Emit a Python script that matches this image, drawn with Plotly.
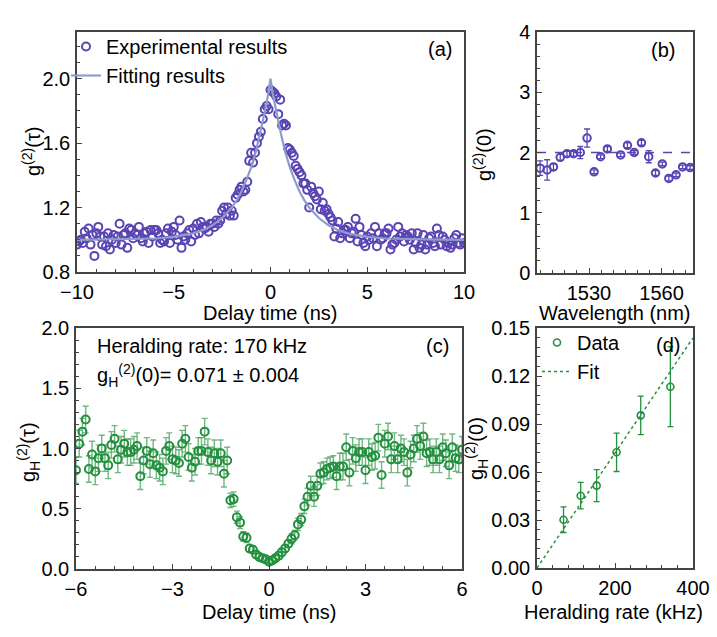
import plotly.graph_objects as go

# ---------------- Panel (a): g2(tau) thermal bunching ----------------
delay_a_start = -10.0
delay_a_step = 0.1
g2_a = [
    0.97, 0.99, 1.00, 0.98, 1.05, 1.01, 1.07, 0.97, 1.03, 0.90,
    1.04, 1.08, 1.02, 0.97, 1.02, 0.96, 1.04, 0.94, 1.00, 1.03,
    0.98, 1.02, 1.10, 0.97, 1.03, 1.04, 0.95, 1.07, 1.06, 1.01,
    1.04, 1.03, 1.08, 1.01, 0.99, 1.04, 1.05, 0.98, 1.06, 1.02,
    1.06, 1.06, 1.04, 0.98, 1.00, 0.99, 1.04, 1.07, 0.98, 1.05,
    1.08, 1.03, 1.00, 1.12, 0.95, 1.02, 1.00, 1.04, 1.06, 0.99,
    1.07, 1.03, 1.10, 1.04, 1.11, 1.08, 1.07, 1.08, 1.05, 1.10,
    1.10, 1.08, 1.12, 1.10, 1.12, 1.18, 1.20, 1.16, 1.20, 1.15,
    1.18, 1.15, 1.26, 1.28, 1.31, 1.33, 1.30, 1.31, 1.36, 1.49,
    1.54, 1.48, 1.54, 1.60, 1.64, 1.67, 1.75, 1.81, 1.83, 1.81,
    1.93, 1.92, 1.91, 1.89, 1.78, 1.87, 1.71, 1.72, 1.71, 1.57,
    1.56, 1.54, 1.52, 1.46, 1.44, 1.42, 1.40, 1.35, 1.35, 1.31,
    1.20, 1.33, 1.29, 1.27, 1.25, 1.30, 1.19, 1.23, 1.18, 1.19,
    1.16, 1.14, 1.12, 1.02, 1.07, 1.11, 1.01, 1.04, 1.06, 1.06,
    1.08, 1.01, 1.04, 1.05, 1.13, 0.99, 1.08, 1.03, 0.98, 0.96,
    1.02, 1.00, 1.04, 1.01, 1.08, 0.96, 1.04, 1.00, 1.01, 1.04,
    1.04, 1.07, 0.94, 0.97, 0.98, 1.00, 1.08, 1.02, 1.04, 0.99,
    1.03, 1.02, 1.00, 1.04, 0.94, 0.98, 1.04, 0.95, 0.97, 1.03,
    0.94, 0.97, 1.01, 1.02, 0.98, 0.96, 1.07, 1.03, 0.97, 1.02,
    1.00, 0.96, 0.98, 0.95, 0.97, 1.01, 1.03, 0.98, 0.97, 1.01,
    0.98,
]
delay_a = [round(delay_a_start + i * delay_a_step, 2) for i in range(len(g2_a))]

fit_a_t = [-10, -8, -6, -5, -4, -3.5, -3, -2.5, -2, -1.75, -1.5, -1.25, -1, -0.75, -0.5,
           -0.25, -0.125, 0, 0.125, 0.25, 0.5, 0.75, 1, 1.25, 1.5, 1.75, 2, 2.5, 3, 3.5,
           4, 5, 6, 8, 10]
fit_a_g = [1.0, 1.002, 1.008, 1.018, 1.04, 1.06, 1.09, 1.135, 1.20, 1.245, 1.30, 1.37, 1.45,
           1.55, 1.68, 1.82, 1.90, 2.00, 1.90, 1.82, 1.68, 1.55, 1.45, 1.37, 1.30, 1.245, 1.20,
           1.135, 1.09, 1.06, 1.04, 1.018, 1.008, 1.002, 1.0]

# ---------------- Panel (b): g2(0) vs wavelength ----------------
wavelength_b = [1509.8, 1512.7, 1515.3, 1518.1, 1520.9, 1523.6, 1526.4, 1529.2, 1532.1,
                1534.8, 1537.6, 1543.1, 1545.9, 1548.7, 1551.7, 1554.7, 1557.5, 1560.3,
                1563.0, 1566.0, 1568.7, 1571.8]
g2zero_b = [1.74, 1.71, 1.76, 1.92, 1.98, 1.98, 2.00, 2.24, 1.68, 1.93, 2.06, 1.96, 2.12,
            2.00, 2.16, 1.93, 1.66, 1.81, 1.57, 1.63, 1.76, 1.75]
g2zero_b_err = [0.12, 0.17, 0.05, 0.05, 0.04, 0.04, 0.10, 0.15, 0.03, 0.03, 0.04, 0.03, 0.04,
                0.03, 0.04, 0.10, 0.04, 0.03, 0.04, 0.03, 0.03, 0.03]
ref_line_b = 2.0

# ---------------- Panel (c): heralded g2(tau) ----------------
delay_c_start = -6.0
delay_c_step = 0.1
g2h_c = [
    0.82, 1.04, 1.14, 1.24, 0.83, 0.95, 0.81, 0.92, 1.00, 0.92,
    0.86, 1.03, 1.08, 0.91, 0.99, 1.04, 0.97, 0.97, 0.99, 1.02,
    0.77, 0.90, 0.98, 0.87, 0.96, 0.86, 0.84, 0.81, 0.98, 1.02,
    0.91, 0.90, 0.88, 1.04, 1.08, 0.93, 0.84, 0.89, 0.98, 0.98,
    1.14, 0.97, 0.90, 0.96, 0.89, 0.96, 0.79, 0.90,
    0.57, 0.58, 0.43, 0.385, 0.27, 0.26, 0.17, 0.16, 0.12, 0.10, 0.09, 0.08,
    0.06,
    0.07, 0.09, 0.11, 0.14, 0.17, 0.21, 0.25, 0.28, 0.37, 0.41,
    0.52, 0.60, 0.69, 0.60, 0.69, 0.79, 0.80, 0.83, 0.84, 0.85,
    0.77, 0.85, 0.85, 1.01, 0.80, 0.98, 0.92, 0.97, 0.97, 0.82,
    0.97, 0.93, 0.94, 1.09, 0.78, 1.04, 1.10, 0.91, 1.02, 0.91,
    1.00, 0.97, 0.80, 0.95, 1.00, 1.08, 1.02, 1.10, 0.96, 0.97,
    0.91, 0.97, 0.91, 1.01, 0.96, 0.86, 1.01, 0.92, 0.91, 0.99,
]
g2h_c_err = [0.11] * 48 + [
    0.06, 0.06, 0.05, 0.05, 0.04, 0.04, 0.03, 0.03, 0.03, 0.03, 0.02, 0.02,
    0.02,
    0.02, 0.02, 0.03, 0.03, 0.03, 0.03, 0.04, 0.04, 0.05, 0.05,
    0.06, 0.07, 0.08, 0.08, 0.08, 0.09, 0.09, 0.09, 0.09, 0.09,
] + [0.11] * 40
delay_c = [round(delay_c_start + i * delay_c_step, 2) for i in range(len(g2h_c))]

# ---------------- Panel (d): g2H(0) vs heralding rate ----------------
rate_d = [68, 112, 153, 204, 266, 342]
g2h0_d = [0.0302, 0.0452, 0.0515, 0.0723, 0.0954, 0.1133]
g2h0_d_err = [0.008, 0.0083, 0.010, 0.012, 0.012, 0.025]
fit_d_x = [0, 400]
fit_d_y = [0.0, 0.1438]

PURPLE = "#5a44b4"
FITBLUE = "#8e9ccb"
GREEN = "#23903e"
GREEN_ERR = "rgba(35,144,62,0.65)"
FONT = "Liberation Sans, Arial, sans-serif"
FS = 20
W, H = 717, 637


def px(x):
    return x / W


def py(y):
    return 1 - y / H


fig = go.Figure()

fig.add_trace(go.Scatter(
    x=delay_a, y=g2_a, mode="markers", name="Experimental results",
    marker=dict(symbol="circle-open", size=8, color=PURPLE, line=dict(width=2, color=PURPLE)),
    xaxis="x", yaxis="y", legend="legend"))
fig.add_trace(go.Scatter(
    x=fit_a_t, y=fit_a_g, mode="lines", name="Fitting results",
    line=dict(color=FITBLUE, width=2.2), xaxis="x", yaxis="y", legend="legend"))

fig.add_trace(go.Scatter(
    x=[1508.5, 1573.0], y=[ref_line_b, ref_line_b], mode="lines", showlegend=False,
    line=dict(color=PURPLE, width=1.5, dash="dash"), xaxis="x2", yaxis="y2"))
fig.add_trace(go.Scatter(
    x=wavelength_b, y=g2zero_b, mode="markers", showlegend=False,
    error_y=dict(type="data", array=g2zero_b_err, color=PURPLE, thickness=1.3, width=3),
    marker=dict(symbol="circle-open", size=7.5, color=PURPLE, line=dict(width=2, color=PURPLE)),
    xaxis="x2", yaxis="y2"))

fig.add_trace(go.Scatter(
    x=delay_c, y=g2h_c, mode="markers", showlegend=False,
    error_y=dict(type="data", array=g2h_c_err, color=GREEN_ERR, thickness=1.4, width=3),
    marker=dict(symbol="circle-open", size=8, color=GREEN, line=dict(width=2, color=GREEN)),
    xaxis="x3", yaxis="y3"))

fig.add_trace(go.Scatter(
    x=fit_d_x, y=fit_d_y, mode="lines", name="Fit",
    line=dict(color=GREEN, width=1.5, dash="dot"), xaxis="x4", yaxis="y4", legend="legend2"))
fig.add_trace(go.Scatter(
    x=rate_d, y=g2h0_d, mode="markers", name="Data",
    error_y=dict(type="data", array=g2h0_d_err, color=GREEN, thickness=1.3, width=3),
    marker=dict(symbol="circle-open", size=7, color=GREEN, line=dict(width=1.6, color=GREEN)),
    xaxis="x4", yaxis="y4", legend="legend2"))

AX = dict(showline=True, linecolor="#444", linewidth=1.5, mirror=True, ticks="inside",
          ticklen=5, tickwidth=1.2, tickcolor="#444", showgrid=False, zeroline=False,
          automargin=False,
          tickfont=dict(family=FONT, size=FS, color="black"), ticklabelstandoff=1)


def ax(**kw):
    d = dict(AX)
    d.update(kw)
    return d


MINOR = dict(ticks="inside", ticklen=3, tickcolor="#444")

fig.update_layout(
    template="none",
    width=W, height=H, margin=dict(l=0, r=0, t=0, b=0, pad=0, autoexpand=False),
    paper_bgcolor="white", plot_bgcolor="white",
    font=dict(family=FONT, size=FS, color="black"),
    xaxis=ax(domain=[px(77), px(464)], range=[-10, 10], tickvals=[-10, -5, 0, 5, 10],
             minor=dict(MINOR, dtick=1, tick0=-10), anchor="y"),
    yaxis=ax(domain=[py(272), py(32)], range=[0.8, 2.29], tickvals=[0.8, 1.2, 1.6, 2.0],
             ticktext=["0.8", "1.2", "1.6", "2.0"],
             minor=dict(MINOR, dtick=0.1, tick0=0.8), anchor="x"),
    xaxis2=ax(domain=[px(537), px(693)], range=[1508.5, 1573], tickvals=[1530, 1560],
              minor=dict(MINOR, dtick=5, tick0=1500), anchor="y2"),
    yaxis2=ax(domain=[py(273), py(32)], range=[0, 4], tickvals=[0, 1, 2, 3, 4],
              minor=dict(MINOR, dtick=0.2, tick0=0), anchor="x2"),
    xaxis3=ax(domain=[px(76), px(462)], range=[-6, 6], tickvals=[-6, -3, 0, 3, 6],
              minor=dict(MINOR, dtick=0.6, tick0=-6), anchor="y3"),
    yaxis3=ax(domain=[py(569), py(328)], range=[0, 2], tickvals=[0, 0.5, 1.0, 1.5, 2.0],
              ticktext=["0.0", "0.5", "1.0", "1.5", "2.0"],
              minor=dict(MINOR, dtick=0.1, tick0=0), anchor="x3"),
    xaxis4=ax(domain=[px(537), px(693)], range=[0, 400], tickvals=[0, 200, 400],
              minor=dict(MINOR, dtick=40, tick0=0), anchor="y4"),
    yaxis4=ax(domain=[py(568), py(328)], range=[0, 0.15],
              tickvals=[0, 0.03, 0.06, 0.09, 0.12, 0.15],
              ticktext=["0.00", "0.03", "0.06", "0.09", "0.12", "0.15"],
              minor=dict(MINOR, dtick=0.006, tick0=0), anchor="x4"),
    legend=dict(x=px(66), y=py(27), xanchor="left", yanchor="top", bgcolor="rgba(0,0,0,0)",
                font=dict(family=FONT, size=FS), tracegroupgap=0, itemwidth=30),
    legend2=dict(x=px(537), y=py(323), xanchor="left", yanchor="top", bgcolor="rgba(0,0,0,0)",
                 font=dict(family=FONT, size=FS), tracegroupgap=0, itemwidth=30,
                 traceorder="reversed"),
)

ann = []


def text(x, y, s, angle=0, xanchor="center", size=FS):
    ann.append(dict(x=px(x), y=py(y), xref="paper", yref="paper", text=s, showarrow=False,
                    textangle=angle, xanchor=xanchor, yanchor="middle",
                    font=dict(family=FONT, size=size, color="black")))


text(270, 313, "Delay time (ns)")
text(31, 152, "g<sup>(2)</sup>(τ)", angle=-90)
text(615, 313, "Wavelength (nm)")
text(482, 155, "g<sup>(2)</sup>(0)", angle=-90)
text(269, 612, "Delay time (ns)")
text(28, 452, "g<sub>H</sub><sup>(2)</sup>(τ)", angle=-90)
text(613, 612, "Heralding rate (kHz)")
text(476, 448, "g<sub>H</sub><sup>(2)</sup>(0)", angle=-90)
text(440, 49, "(a)")
text(663, 50, "(b)")
text(437, 346, "(c)")
text(668, 345, "(d)")
text(95, 346, "Heralding rate: 170 kHz", xanchor="left")
text(95, 375, "g<sub>H</sub><sup>(2)</sup>(0)= 0.071 ± 0.004", xanchor="left")

fig.update_layout(annotations=ann)
fig.write_html("out.html")
